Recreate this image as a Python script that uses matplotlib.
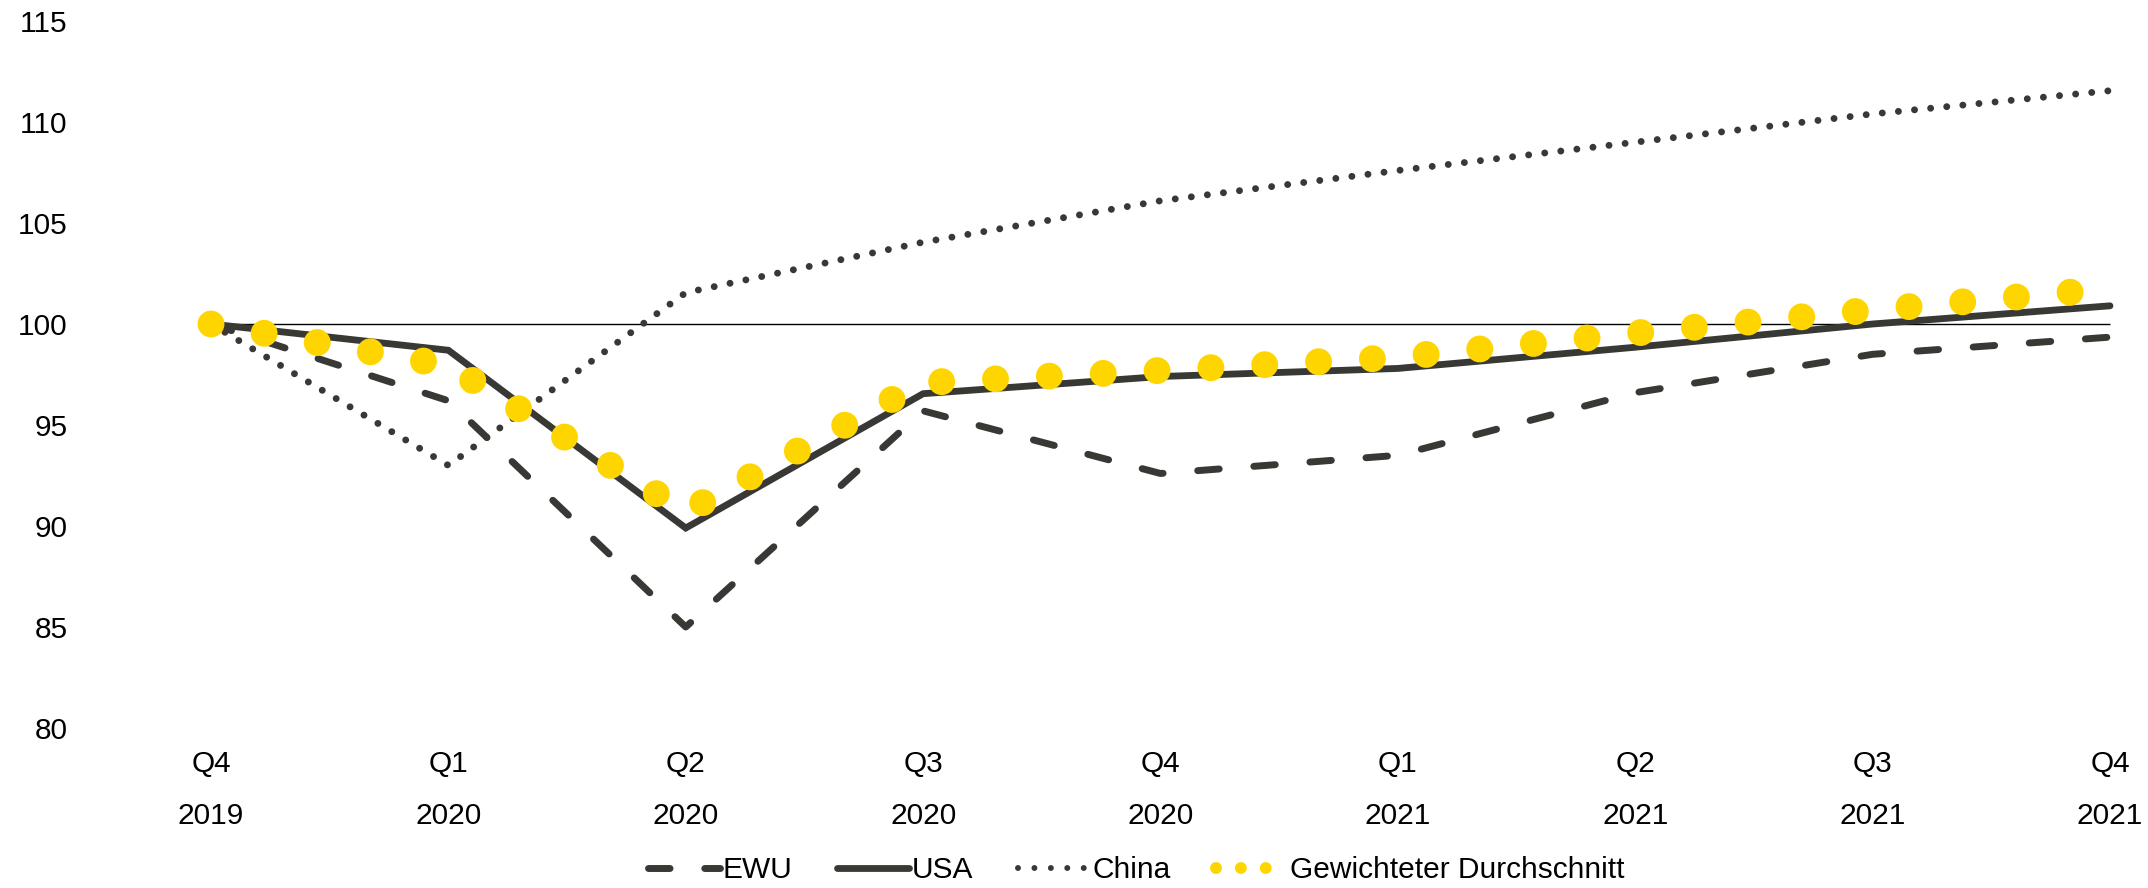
import matplotlib
matplotlib.use("Agg")
import matplotlib.pyplot as plt
from matplotlib.lines import Line2D

plt.rcParams['font.family'] = ['Liberation Sans', 'DejaVu Sans']

quarters = ["Q4", "Q1", "Q2", "Q3", "Q4", "Q1", "Q2", "Q3", "Q4"]
years = ["2019", "2020", "2020", "2020", "2020", "2021", "2021", "2021", "2021"]

ewu = [100.0, 96.2, 85.0, 95.7, 92.6, 93.5, 96.6, 98.5, 99.35]
usa = [100.0, 98.7, 89.9, 96.55, 97.4, 97.8, 98.85, 100.0, 100.9]
china = [100.0, 93.0, 101.55, 104.05, 106.1, 107.6, 109.0, 110.4, 111.55]
weighted = [100.0, 97.95, 90.7, 97.1, 97.7, 98.35, 99.55, 100.7, 101.75]

labels = ["EWU", "USA", "China", "Gewichteter Durchschnitt"]
yticks = [80, 85, 90, 95, 100, 105, 110, 115]

DARK = "#383935"
YELLOW = "#FFD500"

W, H = 2148, 888
fig = plt.figure(figsize=(W / 100, H / 100), dpi=100)

unit = (2110 - 211) / 8.0
xpad = 0.2
left_px = 211 - xpad * unit
width_px = (8 + 2 * xpad) * unit
bottom_px = H - 728
top_px = H - 21
ax = fig.add_axes([left_px / W, bottom_px / H, width_px / W, (top_px - bottom_px) / H])

x = list(range(len(quarters)))

ax.hlines(100, x[0], x[-1], color="black", lw=1.0, zorder=1)

ewu_style = dict(color=DARK, lw=5.0, linestyle=(0, (3.1, 5.0)), dash_capstyle="round", solid_capstyle="round")
usa_style = dict(color=DARK, lw=4.9, linestyle="-", solid_capstyle="round", solid_joinstyle="miter")
china_style = dict(color=DARK, lw=5.0, linestyle=(0, (0.001, 2.33)), dash_capstyle="round")
wavg_style = dict(color=YELLOW, lw=19.4, linestyle=(0, (0.001, 2.0)), dash_capstyle="round")

ax.plot(x, ewu, zorder=2, **ewu_style)
ax.plot(x, usa, zorder=3, **usa_style)
ax.plot(x, china, zorder=4, **china_style)
ax.plot(x, weighted, zorder=5, **wavg_style)

ax.set_xlim(x[0] - xpad, x[-1] + xpad)
ax.set_ylim(80, 115)
ax.set_yticks(yticks)
ax.set_yticklabels([str(v) for v in yticks])
ax.set_xticks(x)
ax.set_xticklabels([f"{q}\n{y}" for q, y in zip(quarters, years)], linespacing=2.1)
ax.tick_params(axis="y", length=0, pad=69, labelsize=21.5, labelcolor="black")
ax.tick_params(axis="x", length=0, pad=16, labelsize=21.5, labelcolor="black")
for s in ax.spines.values():
    s.set_visible(False)
ax.patch.set_visible(False)

handles = [
    Line2D([], [], **ewu_style),
    Line2D([], [], **usa_style),
    Line2D([], [], **{**china_style, "lw": 4.3, "linestyle": (0, (0.001, 2.75))}),
    Line2D([], [], **{**wavg_style, "lw": 8.6, "linestyle": (0, (0.001, 2.08))}),
]
fig.legend(handles, labels, loc="center", bbox_to_anchor=(0.529, 1 - 870 / H), ncol=4,
           frameon=False, handlelength=2.4, handletextpad=0.1, columnspacing=1.5, fontsize=21.5)

fig.savefig("out.png", dpi=100)
